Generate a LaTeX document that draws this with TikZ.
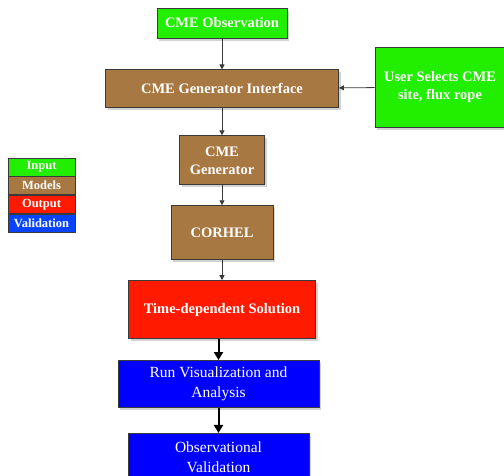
\documentclass[tikz,border=0pt]{standalone}
\usepackage{fontspec}
\setmainfont{Liberation Serif}
\usepackage{tikz}
\usetikzlibrary{positioning, arrows.meta, shadows}
\definecolor{FlowGreen}{HTML}{22EE00}
\definecolor{FlowBrown}{HTML}{A87843}
\definecolor{FlowRed}{HTML}{FF1A00}
\definecolor{FlowBlue}{HTML}{0000FF}
\definecolor{FlowLegBlue}{HTML}{0844FF}
\definecolor{FlowEdge}{HTML}{3A3A3A}

\begin{document}
\begin{tikzpicture}[
  every node/.style={font=\fontsize{12}{13}\selectfont},
  box/.style={draw=FlowEdge, line width=0.9pt, text=white, inner sep=0pt, align=center,
    font=\fontsize{14.5}{18}\selectfont\bfseries,
    drop shadow={opacity=0.35, shadow xshift=2pt, shadow yshift=-2.5pt}},
  inbox/.style={box, fill=FlowGreen},
  modbox/.style={box, fill=FlowBrown},
  outbox/.style={box, fill=FlowRed},
  valbox/.style={box, fill=FlowBlue, font=\fontsize{15.5}{20}\selectfont},
  legend/.style={draw=FlowEdge, line width=0.6pt, text=white, inner sep=0pt,
    minimum width=67pt, minimum height=18pt, font=\fontsize{12.5}{13}\selectfont\bfseries},
  arr/.style={-{Triangle[length=5pt, width=5pt]}, FlowEdge, line width=0.8pt},
  barr/.style={-{Triangle[length=8pt, width=9pt]}, black, line width=2pt}
]
  \useasboundingbox (0,0) rectangle (504pt,-475pt);

  % Main chain
  \node[inbox, minimum width=130pt, minimum height=30pt] (obs) at (222pt,-23pt) {CME Observation};
  \node[modbox, below=31pt of obs, minimum width=233pt, minimum height=38pt] (iface)
    {CME Generator Interface};
  \node[modbox, below=27pt of iface, minimum width=85pt, minimum height=49pt] (gen)
    {CME\\Generator};
  \node[modbox, below=20pt of gen, minimum width=102pt, minimum height=54pt] (corhel) {CORHEL};
  \node[outbox, below=20pt of corhel, minimum width=187pt, minimum height=58pt] (sol)
    {Time-dependent Solution};
  \node[valbox, below=21pt of sol, xshift=-3.5pt, minimum width=201pt, minimum height=47pt] (vis)
    {Run Visualization and\\Analysis};
  \node[valbox, below=25pt of vis, minimum width=181pt, minimum height=47pt] (val)
    {Observational\\Validation};

  % User input
  \node[inbox, minimum width=130pt, minimum height=80pt] (user) at (440pt,-87pt)
    {User Selects CME\\site, flux rope};

  % Legend
  \node[legend, fill=FlowGreen] (lin) at (41.5pt,-167pt) {Input};
  \node[legend, fill=FlowBrown, below=0pt of lin] (lmod) {Models};
  \node[legend, fill=FlowRed, below=0pt of lmod] (lout) {Output};
  \node[legend, fill=FlowLegBlue, below=0pt of lout] (lval) {Validation};

  % Arrows
  \draw[arr] (obs) -- (iface);
  \draw[arr] (user) -- (iface);
  \draw[arr] (iface) -- (gen);
  \draw[arr] (gen) -- (corhel);
  \draw[arr] (corhel) -- (sol);
  \draw[barr] (sol.south) ++(-3.5pt,0) coordinate (solout) -- (vis.north);
  \draw[barr] (vis) -- (val);
\end{tikzpicture}
\end{document}
